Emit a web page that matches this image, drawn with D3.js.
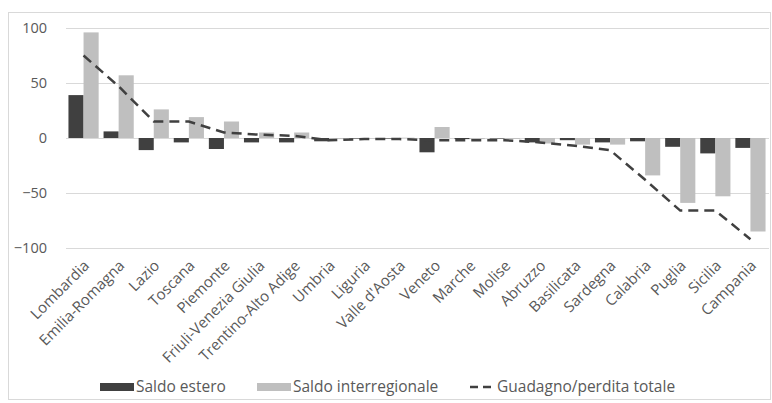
<!DOCTYPE html>
<html>
<head>
<meta charset="utf-8">
<script src="https://cdn.jsdelivr.net/npm/d3@7"></script>
<style>
  html, body { margin: 0; padding: 0; background: #fff; }
  svg { display: block; font-family: "Open Sans", "Liberation Sans", Arial, sans-serif; }
</style>
</head>
<body>
<svg id="chart" width="772" height="403"></svg>
<script>
// Regional balances: foreign, inter-regional and total gain/loss
const regions = ["Lombardia", "Emilia-Romagna", "Lazio", "Toscana", "Piemonte",
  "Friuli-Venezia Giulia", "Trentino-Alto Adige", "Umbria", "Liguria", "Valle d'Aosta",
  "Veneto", "Marche", "Molise", "Abruzzo", "Basilicata", "Sardegna", "Calabria",
  "Puglia", "Sicilia", "Campania"];
const saldoEstero = [39, 6, -11, -4, -10, -4, -4, -3, -0.5, -0.5,
  -13, -1, -0.5, -4, -2, -4, -3, -8, -14, -9];
const saldoInterregionale = [96, 57, 26, 19, 15, 5, 5, -1, -0.5, 0.3,
  10, -1, -0.8, -5, -6, -6, -34, -59, -53, -85];
const totale = [75, 47, 15, 15, 5, 3, 2, -2, -1, -1,
  -2, -2, -2, -4, -7, -11, -38, -66, -66, -92];
const yTicks = [100, 50, 0, -50, -100];
const seriesNames = ["Saldo estero", "Saldo interregionale", "Guadagno/perdita totale"];

const colDark = "#404040", colLight = "#bfbfbf", colGrid = "#d9d9d9", colText = "#595959";
const fontFamily = "Open Sans, Liberation Sans, Arial, sans-serif";

const svg = d3.select("#chart");

// outer chart frame
svg.append("rect").attr("x", 8.5).attr("y", 12.5).attr("width", 762).attr("height", 387)
  .attr("fill", "none").attr("stroke", colGrid).attr("stroke-width", 1);

const x0 = d3.scaleBand().domain(regions).range([66, 768]).paddingInner(0.14).paddingOuter(0.07);
const x1 = d3.scaleBand().domain(["estero", "inter"]).range([0, x0.bandwidth()]);
const y = d3.scaleLinear().domain([-100, 100]).range([248, 28]);

// gridlines
svg.append("g").selectAll("line").data(yTicks).join("line")
  .attr("x1", 66).attr("x2", 769)
  .attr("y1", d => Math.round(y(d)) + 0.5).attr("y2", d => Math.round(y(d)) + 0.5)
  .attr("stroke", colGrid).attr("stroke-width", 1);

// y axis labels
const yAxis = d3.axisLeft(y).tickValues(yTicks).tickSize(0).tickPadding(0);
const gy = svg.append("g").attr("transform", "translate(47,0)").call(yAxis);
gy.select(".domain").remove();
gy.selectAll("text").attr("fill", colText).style("font-size", "14.5px")
  .style("font-family", fontFamily);

// bars
const rows = regions.map((r, i) => ({ r, estero: saldoEstero[i], inter: saldoInterregionale[i] }));
const groups = svg.append("g").selectAll("g").data(rows).join("g")
  .attr("transform", d => `translate(${x0(d.r)},0)`);
groups.selectAll("rect").data(d => [
    { k: "estero", v: d.estero, c: colDark },
    { k: "inter", v: d.inter, c: colLight }])
  .join("rect")
  .attr("x", d => x1(d.k))
  .attr("width", x1.bandwidth())
  .attr("y", d => y(Math.max(0, d.v)))
  .attr("height", d => Math.abs(y(d.v) - y(0)))
  .attr("fill", d => d.c);

// total line
const line = d3.line()
  .x((d, i) => x0(regions[i]) + x0.bandwidth() / 2)
  .y(d => y(d));
svg.append("path").datum(totale)
  .attr("d", line)
  .attr("fill", "none").attr("stroke", colDark).attr("stroke-width", 2.5)
  .attr("stroke-dasharray", "10,6");

// category labels, rotated
const xAxis = d3.axisBottom(x0).tickSize(0).tickPadding(0);
const gx = svg.append("g").attr("transform", "translate(0,263)").call(xAxis);
gx.select(".domain").remove();
gx.selectAll("text")
  .attr("fill", colText).style("font-size", "15px")
  .style("font-family", fontFamily)
  .attr("text-anchor", "end").attr("dy", "0.35em").attr("y", 0)
  .attr("transform", "translate(3,0) rotate(-45)");

// legend
const legend = svg.append("g").attr("transform", "translate(0,387)");
const items = [
  { name: seriesNames[0], x: 100, type: "bar", c: colDark },
  { name: seriesNames[1], x: 257, type: "bar", c: colLight },
  { name: seriesNames[2], x: 470, type: "line", c: colDark }
];
items.forEach(it => {
  const g = legend.append("g").attr("transform", `translate(${it.x},0)`);
  if (it.type === "bar") {
    g.append("rect").attr("x", 0).attr("y", -4).attr("width", 34).attr("height", 8).attr("fill", it.c);
  } else {
    g.append("line").attr("x1", 0).attr("x2", 24).attr("y1", 0).attr("y2", 0)
      .attr("stroke", it.c).attr("stroke-width", 2.5).attr("stroke-dasharray", "8,5");
  }
  g.append("text").attr("x", it.type === "bar" ? 36 : 27).attr("y", 0).attr("dy", "0.35em")
    .attr("fill", colText).style("font-size", "15.5px").style("font-family", fontFamily)
    .text(it.name);
});
</script>
</body>
</html>
